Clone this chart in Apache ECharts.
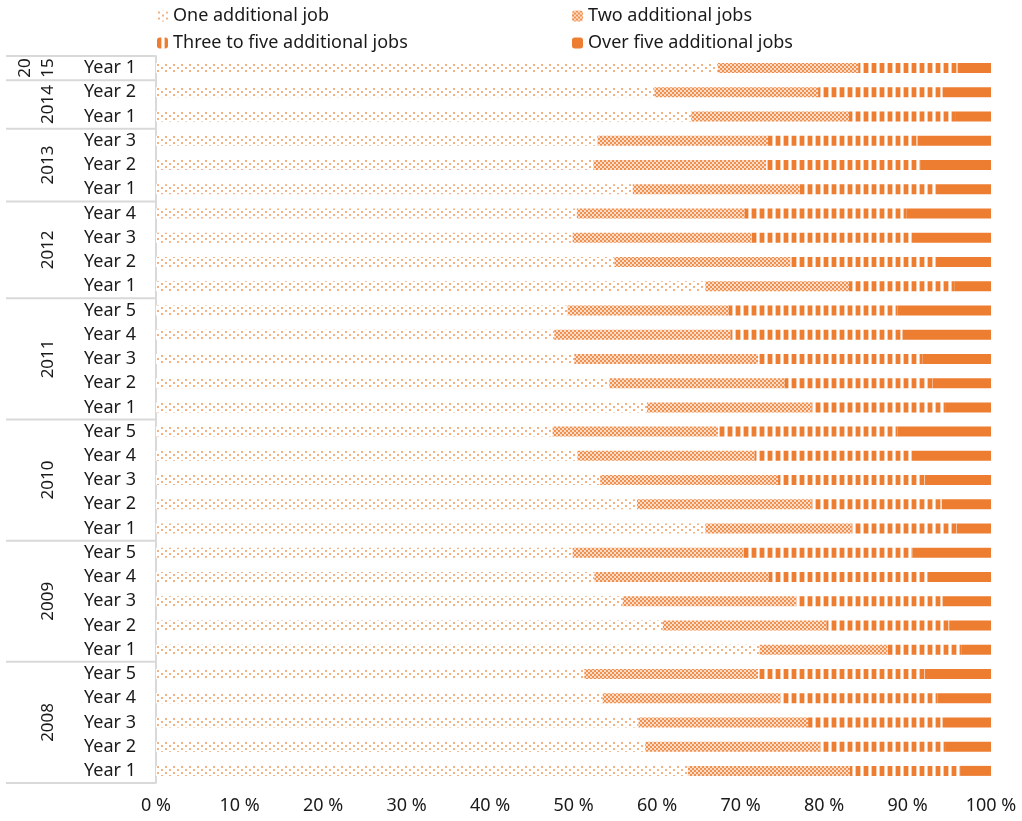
<!DOCTYPE html>
<html>
<head>
<meta charset="utf-8">
<script src="https://cdn.jsdelivr.net/npm/echarts@6/dist/echarts.min.js"></script>
<style>
  html, body { margin: 0; padding: 0; background: #fff; }
  #chart { width: 1022px; height: 821px; }
</style>
</head>
<body>
<div id="chart"></div>
<script>
// ---- Data (rows listed top to bottom) ----
const groupYears = ['2015', '2014', '2013', '2012', '2011', '2010', '2009', '2008'];
const groupSizes = [1, 2, 3, 4, 5, 5, 5, 5];
const rowLabels = [
  'Year 1',
  'Year 2', 'Year 1',
  'Year 3', 'Year 2', 'Year 1',
  'Year 4', 'Year 3', 'Year 2', 'Year 1',
  'Year 5', 'Year 4', 'Year 3', 'Year 2', 'Year 1',
  'Year 5', 'Year 4', 'Year 3', 'Year 2', 'Year 1',
  'Year 5', 'Year 4', 'Year 3', 'Year 2', 'Year 1',
  'Year 5', 'Year 4', 'Year 3', 'Year 2', 'Year 1'
];
const seriesNames = ['One additional job', 'Two additional jobs', 'Three to five additional jobs', 'Over five additional jobs'];
const oneJob = [
  67.3,
  59.7, 64.1,
  52.9, 52.4, 57.1,
  50.4, 49.9, 54.9, 65.8,
  49.3, 47.7, 50.1, 54.3, 58.8,
  47.5, 50.5, 53.2, 57.6, 65.8,
  49.9, 52.5, 55.9, 60.7, 72.3,
  51.3, 53.5, 57.8, 58.6, 63.7
];
const twoJobs = [
  16.8,
  19.6, 18.9,
  20.4, 20.7, 20.0,
  20.1, 21.4, 21.1, 17.2,
  19.3, 21.1, 22.0, 21.0, 19.7,
  19.8, 21.2, 21.3, 20.9, 17.5,
  20.4, 20.9, 20.8, 19.6, 15.3,
  20.8, 21.3, 20.3, 20.9, 19.4
];
const threeToFive = [
  11.9,
  14.9, 12.8,
  17.9, 18.5, 16.3,
  19.4, 19.6, 17.4, 12.6,
  20.2, 20.6, 19.7, 17.7, 16.0,
  21.5, 19.2, 17.6, 15.6, 12.6,
  20.3, 19.0, 17.5, 14.7, 8.9,
  20.0, 18.8, 16.1, 15.0, 13.2
];
const overFive = [
  4.0,
  5.8, 4.2,
  8.8, 8.4, 6.6,
  10.1, 9.1, 6.6, 4.4,
  11.2, 10.6, 8.2, 7.0, 5.5,
  11.2, 9.1, 7.9, 5.9, 4.1,
  9.4, 7.6, 5.8, 5.0, 3.5,
  7.9, 6.4, 5.8, 5.5, 3.7
];
const xTicks = [0, 10, 20, 30, 40, 50, 60, 70, 80, 90, 100];

// ---- Patterns ----
const ORANGE = '#ED7D31';
function makePattern(w, h, draw) {
  const c = document.createElement('canvas');
  c.width = w; c.height = h;
  const ctx = c.getContext('2d');
  ctx.fillStyle = '#ffffff';
  ctx.fillRect(0, 0, w, h);
  draw(ctx);
  return { image: c, repeat: 'repeat' };
}
const dotPattern = makePattern(8, 6, ctx => {
  ctx.fillStyle = 'rgba(237,125,49,0.6)';
  ctx.fillRect(1, 1, 2, 2);
  ctx.fillRect(5, 4, 2, 2);
});
const checkPattern = makePattern(4, 4, ctx => {
  ctx.fillStyle = '#FBDCC8';
  ctx.fillRect(0, 0, 4, 4);
  ctx.fillStyle = '#F0914F';
  ctx.fillRect(0, 0, 2, 2);
  ctx.fillRect(2, 2, 2, 2);
});
const stripePattern = makePattern(8, 4, ctx => {
  ctx.fillStyle = ORANGE;
  ctx.fillRect(0, 0, 4, 4);
  ctx.fillStyle = '#F8CBAD';
  ctx.fillRect(4, 0, 1, 4);
  ctx.fillRect(7, 0, 1, 4);
});
const fills = [dotPattern, checkPattern, stripePattern, ORANGE];
const values = [oneJob, twoJobs, threeToFive, overFive];

const FONT = '"Noto Sans", "Open Sans", sans-serif';
const TEXT = '#1a1a1a';

const chart = echarts.init(document.getElementById('chart'), null, { renderer: 'canvas' });

const legendPos = [
  { left: 157, top: 7 },
  { left: 572, top: 7 },
  { left: 157, top: 34 },
  { left: 572, top: 34 }
];

const option = {
  animation: false,
  backgroundColor: '#ffffff',
  legend: seriesNames.map((n, i) => ({
    data: [n],
    left: legendPos[i].left,
    top: legendPos[i].top,
    padding: 0,
    itemWidth: 11,
    itemHeight: 11,
    itemGap: 0,
    selectedMode: false,
    textStyle: { fontFamily: FONT, fontSize: 18, color: TEXT }
  })),
  grid: { left: 156, right: 31, top: 56, bottom: 38, containLabel: false },
  xAxis: {
    type: 'value',
    min: xTicks[0],
    max: xTicks[xTicks.length - 1],
    interval: xTicks[1] - xTicks[0],
    axisLine: { show: false },
    axisTick: { show: false },
    splitLine: { show: false },
    axisLabel: {
      formatter: '{value} %',
      fontFamily: FONT, fontSize: 18, color: TEXT, margin: 14
    }
  },
  yAxis: {
    type: 'category',
    inverse: true,
    data: rowLabels.map((l, i) => i + '|' + l),
    axisLine: { show: true, lineStyle: { color: '#D9D9D9', width: 2 } },
    axisTick: { show: false },
    axisLabel: {
      formatter: v => v.split('|')[1],
      fontFamily: FONT, fontSize: 18, color: TEXT, margin: 20
    }
  },
  series: seriesNames.map((n, i) => ({
    name: n,
    type: 'bar',
    stack: 'total',
    barWidth: 10,
    itemStyle: { color: fills[i] },
    emphasis: { disabled: true },
    data: values[i]
  }))
};
chart.setOption(option);

// ---- Group (year) labels and separators, placed via the axis scale ----
function py(i) { return chart.convertToPixel({ yAxisIndex: 0 }, i); }
const band = py(1) - py(0);
const graphics = [];
const lineStyle = { stroke: '#D9D9D9', lineWidth: 2 };
const xLineStart = 6, xLineEnd = 155;
let start = 0;
graphics.push({ type: 'line', shape: { x1: xLineStart, y1: py(0) - band / 2, x2: xLineEnd, y2: py(0) - band / 2 }, style: lineStyle, silent: true });
groupYears.forEach((yr, g) => {
  const end = start + groupSizes[g] - 1;
  const cy = (py(start) + py(end)) / 2;
  const bottomY = py(end) + band / 2;
  graphics.push({ type: 'line', shape: { x1: xLineStart, y1: bottomY, x2: xLineEnd, y2: bottomY }, style: lineStyle, silent: true });
  if (groupSizes[g] === 1) {
    // label too long for a single row: wraps into two rotated pieces
    const parts = [yr.slice(0, 2), yr.slice(2)];
    const xs = [25, 48];
    parts.forEach((p, k) => graphics.push({
      type: 'text', x: xs[k], y: cy, rotation: Math.PI / 2, silent: true,
      style: { text: p, fontFamily: FONT, fontSize: 17, fill: TEXT, align: 'center', verticalAlign: 'middle' }
    }));
  } else {
    graphics.push({
      type: 'text', x: 48, y: cy, rotation: Math.PI / 2, silent: true,
      style: { text: yr, fontFamily: FONT, fontSize: 17, fill: TEXT, align: 'center', verticalAlign: 'middle' }
    });
  }
  start = end + 1;
});
chart.setOption({ graphic: graphics });
</script>
</body>
</html>
